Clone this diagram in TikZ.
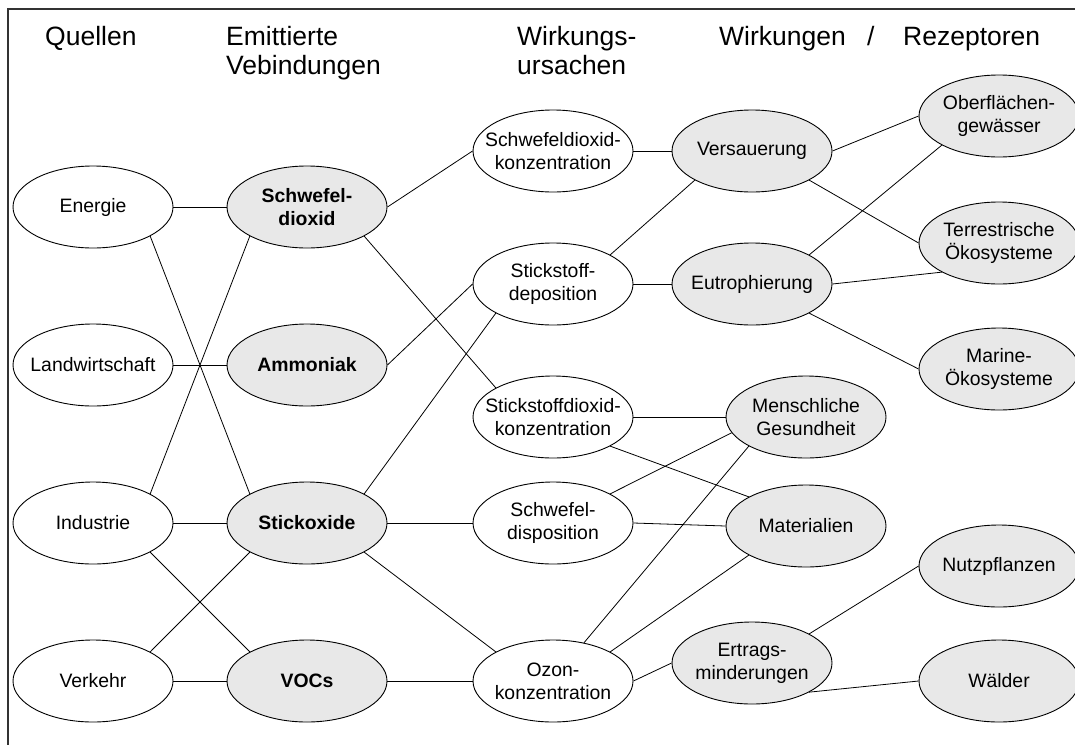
\documentclass[tikz,border=0pt]{standalone}
\usepackage{fontspec}
\setmainfont{Liberation Sans}
\usetikzlibrary{shapes.geometric}
\definecolor{ovalgray}{RGB}{232,232,232}
\newcommand\nodetext{\fontsize{19.4}{23.3}\selectfont}
\newcommand\headtext{\fontsize{26.5}{28.5}\selectfont}
\tikzset{
  oval/.style={ellipse, draw=black, line width=0.9pt, minimum width=160pt,
    minimum height=82pt, inner xsep=-15pt, inner ysep=0pt, align=center,
    font=\nodetext},
  plain/.style={oval, fill=white},
  shaded/.style={oval, fill=ovalgray},
  strong/.style={shaded, font=\nodetext\bfseries},
  link/.style={draw=black, line width=0.8pt},
  head/.style={anchor=base west, inner sep=0pt, font=\headtext},
  frame/.style={draw=black!80, line width=1.1pt}
}
\begin{document}
\begin{tikzpicture}[x=1pt, y=-1pt]
\useasboundingbox (0,0) rectangle (1075,744);
\clip (0,0) rectangle (1075,744);
\draw[frame] (8,9) rectangle (1100,770);

% column headings
\node[head] (h1) at (45,45.5) {Quellen};
\node[head] (h2) at (226,45.5) {Emittierte};
\node[head] (h3) at (226,74) {Vebindungen};
\node[head] (h4) at (517,45.5) {Wirkungs-};
\node[head] (h5) at (517,74) {ursachen};
\node[head] (h6) at (719,45.5) {Wirkungen};
\node[head] (h7) at (867,45.5) {/};
\node[head] (h8) at (903,45.5) {Rezeptoren};

% sources
\node[plain] (energie) at (93,207) {Energie};
\node[plain] (landw) at (93,365) {Landwirtschaft};
\node[plain] (industrie) at (93,523) {Industrie};
\node[plain] (verkehr) at (93,681) {Verkehr};

% emitted compounds
\node[strong] (so2) at (307,207) {Schwefel-\\dioxid};
\node[strong] (nh3) at (307,365) {Ammoniak};
\node[strong] (nox) at (307,523) {Stickoxide};
\node[strong] (voc) at (307,681) {VOCs};

% causes
\node[plain] (so2k) at (553,151) {Schwefeldioxid-\\konzentration};
\node[plain] (ndep) at (553,284) {Stickstoff-\\deposition};
\node[plain] (no2k) at (553,417) {Stickstoffdioxid-\\konzentration};
\node[plain] (sdep) at (553,523) {Schwefel-\\disposition};
\node[plain] (o3k) at (553,681) {Ozon-\\konzentration};

% effects
\node[shaded] (vers) at (752,151) {Versauerung};
\node[shaded] (eutro) at (752,284) {Eutrophierung};
\node[shaded] (gesund) at (806,417) {Menschliche\\Gesundheit};
\node[shaded] (mat) at (806,526) {Materialien};
\node[shaded] (ertrag) at (752,663) {Ertrags-\\minderungen};

% receptors
\node[shaded] (gew) at (999,116) {Oberflächen-\\gewässer};
\node[shaded] (terr) at (999,243) {Terrestrische\\Ökosysteme};
\node[shaded] (marin) at (999,369) {Marine-\\Ökosysteme};
\node[shaded] (nutz) at (999,566) {Nutzpflanzen};
\node[shaded] (wald) at (999,681) {Wälder};

% sources -> compounds
\draw[link] (energie.east) -- (so2.west);
\draw[link] (energie.-27) -- (nox.153);
\draw[link] (so2.-153) -- (industrie.27);
\draw[link] (landw.east) -- (nh3.west);
\draw[link] (industrie.east) -- (nox.west);
\draw[link] (industrie.-27) -- (voc.153);
\draw[link] (verkehr.27) -- (nox.-153);
\draw[link] (verkehr.east) -- (voc.west);

% compounds -> causes
\draw[link] (so2.east) -- (so2k.west);
\draw[link] (so2.-27) -- (no2k.153);
\draw[link] (nh3.east) -- (ndep.west);
\draw[link] (nox.27) -- (ndep.-153);
\draw[link] (nox.east) -- (sdep.west);
\draw[link] (nox.-27) -- (o3k.153);
\draw[link] (voc.east) -- (o3k.west);

% causes -> effects
\draw[link] (so2k.east) -- (vers.west);
\draw[link] (ndep.27) -- (vers.-153);
\draw[link] (ndep.east) -- (eutro.west);
\draw[link] (no2k.east) -- (gesund.west);
\draw[link] (no2k.-27) -- (mat.153);
\draw[link] (sdep.27) -- (gesund.-168);
\draw[link] (sdep.east) -- (mat.west);
\draw[link] (o3k.51) -- (gesund.-153);
\draw[link] (o3k.27) -- (mat.-153);
\draw[link] (o3k.east) -- (ertrag.west);

% effects -> receptors
\draw[link] (vers.east) -- (gew.west);
\draw[link] (vers.-27) -- (terr.west);
\draw[link] (eutro.27) -- (gew.-153);
\draw[link] (eutro.east) -- (terr.-153);
\draw[link] (eutro.-27) -- (marin.west);
\draw[link] (ertrag.27) -- (nutz.west);
\draw[link] (ertrag.-27) -- (wald.west);
\end{tikzpicture}
\end{document}
